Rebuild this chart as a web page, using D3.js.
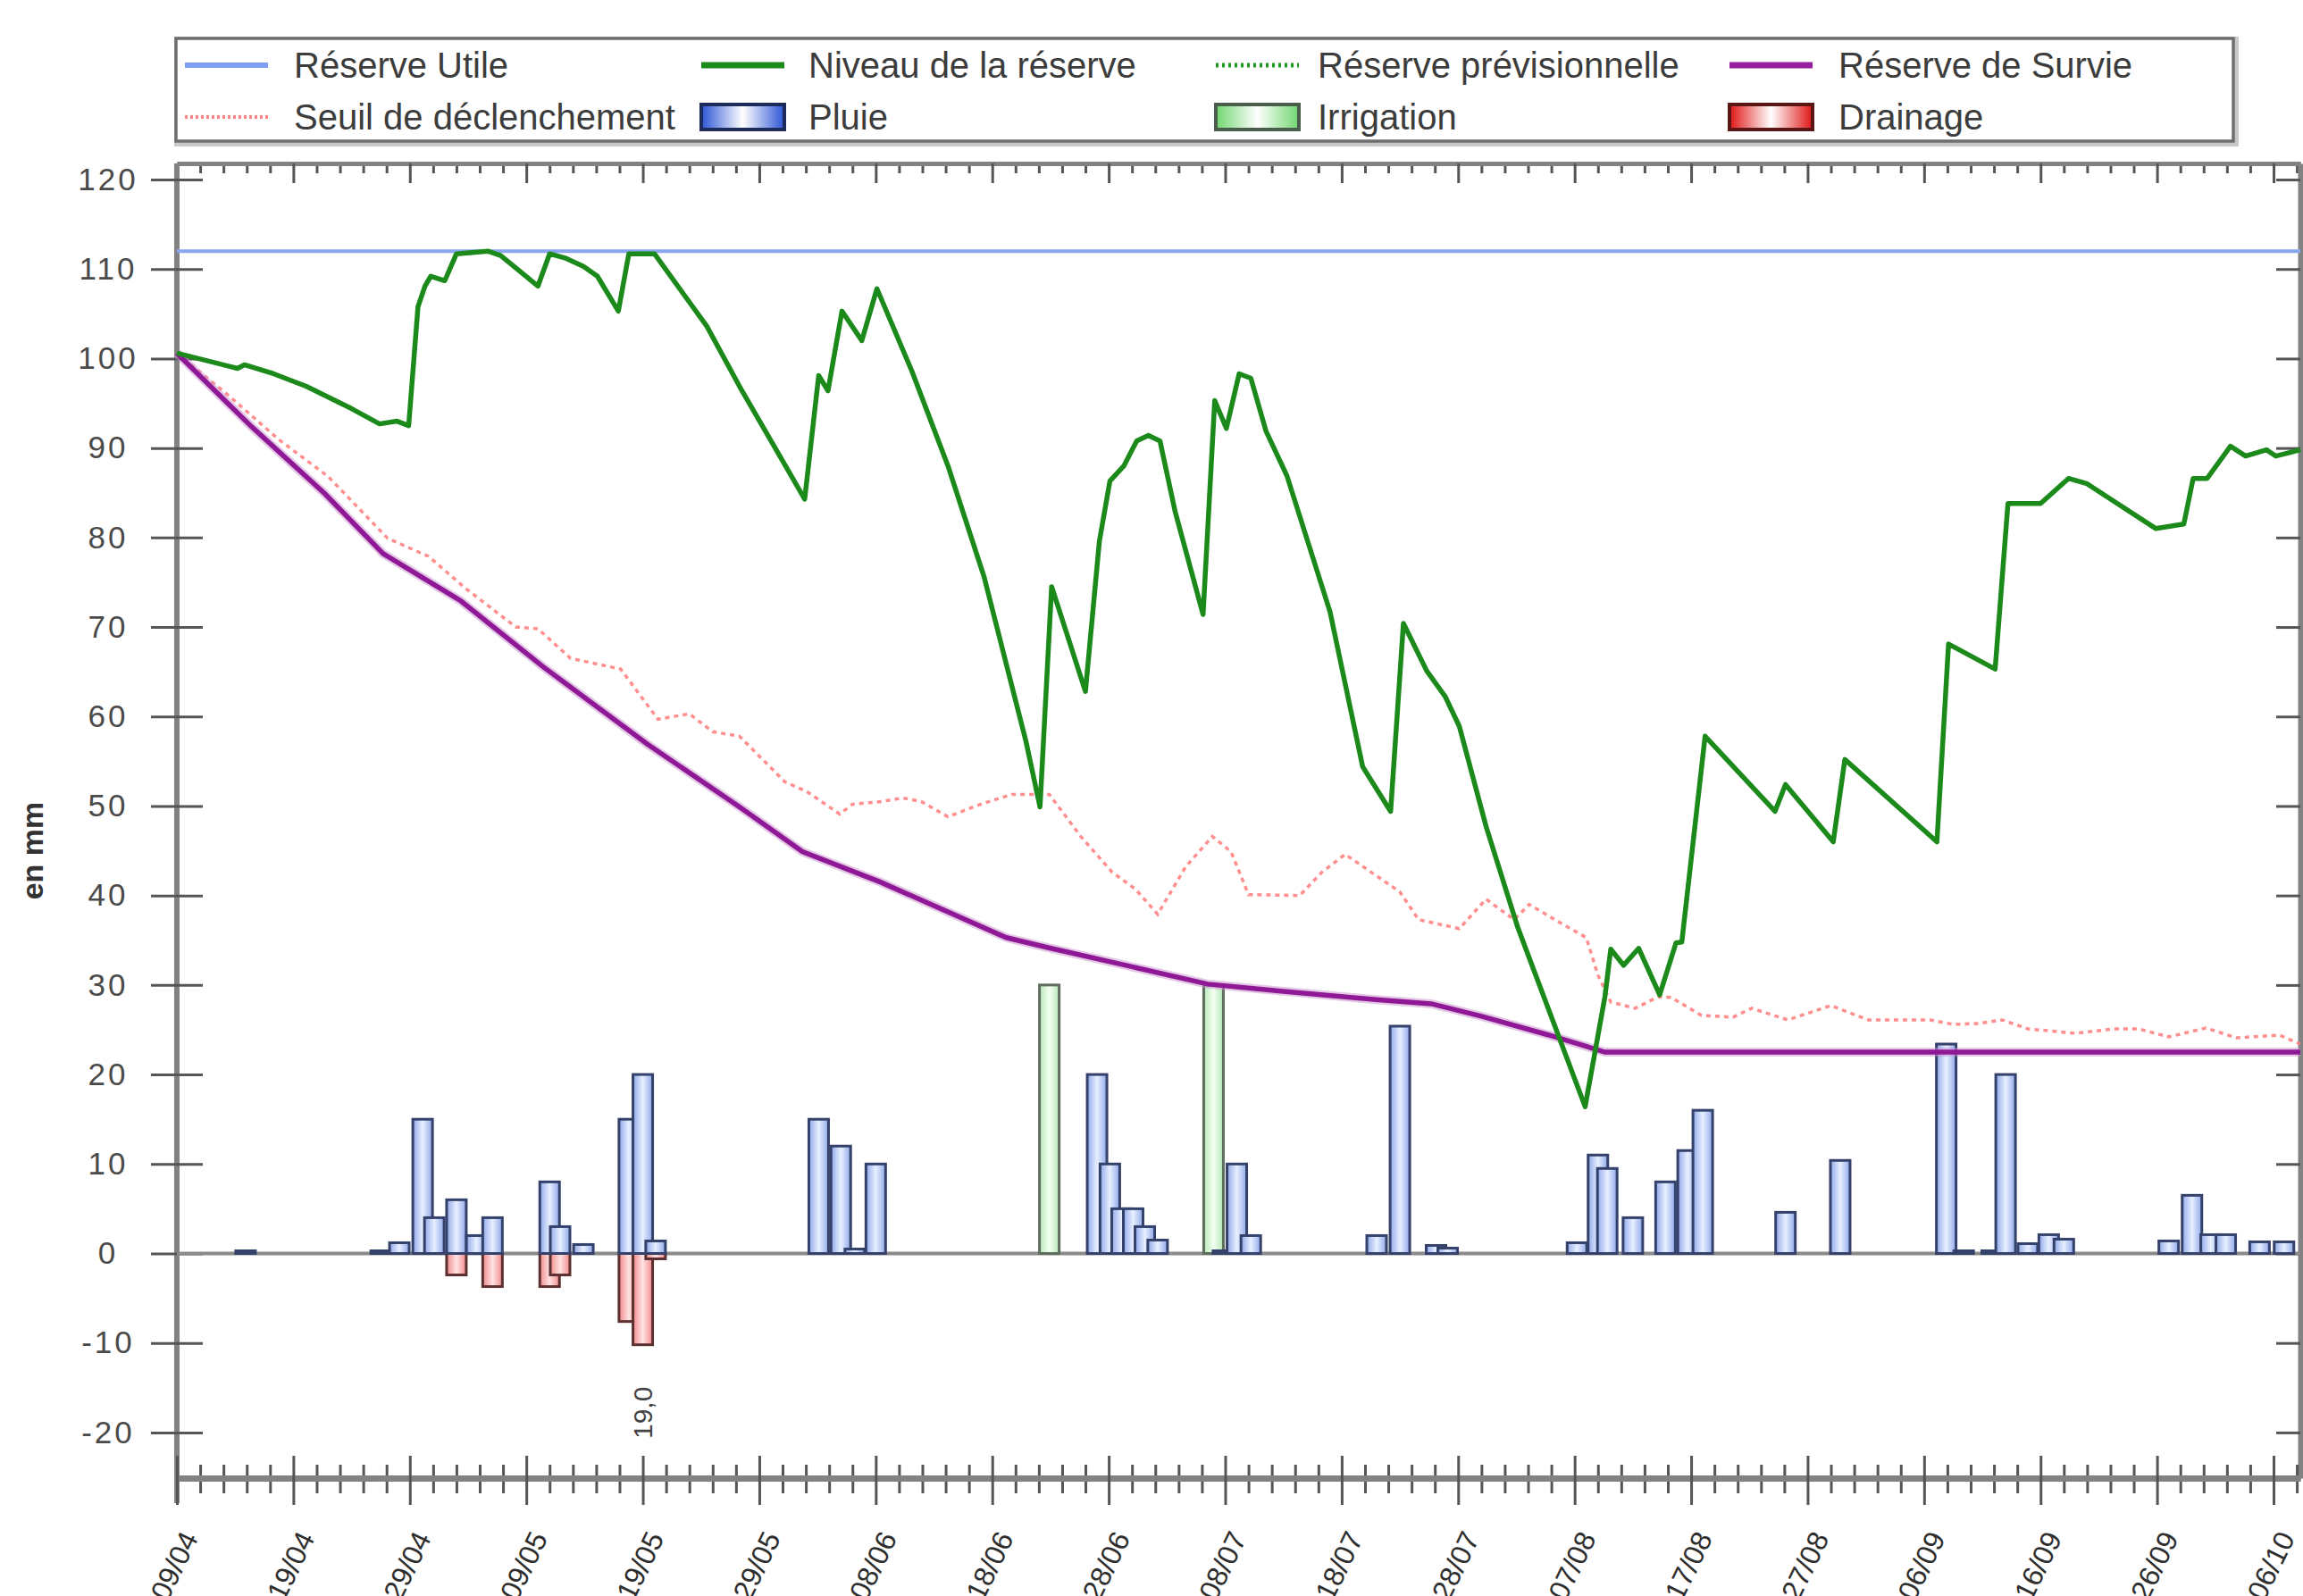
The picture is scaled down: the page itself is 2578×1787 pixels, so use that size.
<!DOCTYPE html>
<html>
<head>
<meta charset="utf-8">
<script src="https://cdn.jsdelivr.net/npm/d3@7"></script>
<style>
  html, body { margin: 0; padding: 0; background: #fff; overflow: hidden; }
  svg { display: block; font-family: "Liberation Sans", Arial, sans-serif; }
</style>
</head>
<body>
<svg id="chart" width="2578" height="1787"></svg>
<script>
// --- données (jours comptés depuis le 09/04, valeurs en mm) ---
const startDay = [2011, 3, 9];
const lastDay = 182.3;
const reserveUtile = 112;

const niveauReserve = [
  [0, 100.6], [5.2, 98.9], [5.8, 99.3], [8.3, 98.3], [11.1, 96.9], [15, 94.4], [17.4, 92.7],
  [18.9, 93], [19.9, 92.5], [20.7, 105.8], [21.3, 108.1], [21.8, 109.2], [23, 108.7], [24, 111.7],
  [26.7, 112], [27.8, 111.5], [31, 108.1], [32, 111.7], [33.4, 111.2], [34.9, 110.3], [36.1, 109.2],
  [37.9, 105.3], [38.8, 111.7], [41, 111.7], [45.5, 103.6], [48.3, 96.9], [53.9, 84.3], [55.1, 98.1],
  [55.9, 96.4], [57.1, 105.3], [58.8, 102], [60.1, 107.8], [63.1, 98.6], [66.2, 88], [69.3, 75.6],
  [72.9, 57.2], [74.1, 49.9], [75.1, 74.5], [78, 62.8], [79.2, 79.6], [80.1, 86.3], [81.3, 88],
  [82.4, 90.8], [83.4, 91.4], [84.4, 90.8], [85.7, 82.9], [88.1, 71.4], [89.1, 95.3], [90.1, 92.2],
  [91.2, 98.3], [92.2, 97.8], [93.5, 91.9], [95.3, 86.9], [99, 71.7], [101.8, 54.4], [104.2, 49.4],
  [105.3, 70.4], [107.3, 65.1], [108.9, 62.2], [110.1, 58.9], [112.4, 47.7], [115.1, 36.5],
  [120.9, 16.4], [122.6, 28.7], [123.1, 34.0], [124.2, 32.2], [125.5, 34.1], [127.3, 28.9],
  [128.7, 34.7], [129.2, 34.8], [131.2, 57.8], [137.2, 49.4], [138.1, 52.4], [142.2, 46.0],
  [143.2, 55.2], [151.1, 46.0], [152.1, 68.1], [156.1, 65.3], [157.2, 83.8], [160, 83.8],
  [162.4, 86.6], [164, 86], [169.9, 81], [172.3, 81.5], [173.1, 86.6], [174.3, 86.6], [176.3, 90.2],
  [177.6, 89.1], [179.4, 89.8], [180.2, 89.1], [182.3, 89.8]
];

const reserveSurvie = [
  [0, 100.6], [6.4, 92.4], [12.7, 84.9], [17.7, 78.2], [24.4, 72.9], [31.4, 65.6], [40.4, 56.9],
  [48.3, 49.9], [53.7, 44.9], [60.4, 41.5], [71.2, 35.3], [74.7, 34.2], [80.8, 32.4], [88.5, 30.1],
  [95, 29.3], [102.7, 28.4], [107.7, 27.9], [112, 26.5], [117.8, 24.4], [122.6, 22.5], [182.3, 22.5]
];

const seuilDeclenchement = [
  [0, 100.6], [4.5, 95.8], [8.7, 91], [13, 86.8], [18.1, 79.9], [21.6, 77.9], [24.8, 74.3],
  [29.1, 70.0], [31, 69.8], [33.8, 66.5], [38.1, 65.3], [41.3, 59.7], [44, 60.3], [46, 58.3],
  [48.3, 57.8], [52.2, 52.7], [54.1, 51.6], [56.9, 49.1], [58, 50.2], [60.5, 50.5], [62.3, 50.9],
  [63.9, 50.5], [66.2, 48.8], [69, 50.2], [71.7, 51.3], [74.9, 51.3], [77.6, 46.6], [80.3, 42.6],
  [82.3, 40.7], [84.2, 37.9], [86.6, 43.2], [88.9, 46.6], [90.5, 44.9], [92, 40.1], [96.4, 40.0],
  [98.3, 42.6], [100.3, 44.6], [105, 40.4], [106.6, 37.3], [110.1, 36.3], [112.4, 39.6],
  [114.8, 37.3], [116.1, 39.0], [118.7, 37.0], [121, 35.3], [122, 31.1], [123.1, 28.1],
  [125.2, 27.4], [127.2, 28.7], [128.3, 28.6], [130.9, 26.6], [133.6, 26.4], [135.2, 27.4],
  [138.3, 26.1], [142, 27.7], [145.2, 26.1], [150.5, 26.1], [152.5, 25.6], [154.7, 25.7],
  [156.7, 26.1], [158.9, 25.1], [163, 24.6], [166.3, 25.1], [168.4, 25.1], [171, 24.2],
  [174.2, 25.2], [176.8, 24.1], [180.5, 24.4], [182.3, 23.4]
];

const pluie = [
  [5.9, 0.3], [17.5, 0.3], [19.1, 1.2], [21.1, 15], [22.1, 4], [24, 6], [25.7, 2], [27.1, 4],
  [32, 8], [32.9, 3], [34.9, 1], [38.8, 15], [40, 20], [41.1, 1.4], [55.1, 15], [57, 12],
  [58.2, 0.5], [60, 10], [79, 20], [80.1, 10], [81.1, 5], [82.1, 5], [83.1, 3], [84.2, 1.5],
  [89.8, 0.3], [91, 10], [92.2, 2], [103, 2], [105, 25.4], [108.1, 0.9], [109.1, 0.6],
  [120.2, 1.2], [122, 11], [122.8, 9.5], [125, 4], [127.8, 8], [129.7, 11.5], [131, 16],
  [138.1, 4.6], [142.8, 10.4], [151.9, 23.4], [153.4, 0.3], [155.8, 0.3], [157, 20], [158.9, 1.1],
  [160.7, 2.1], [162, 1.6], [171, 1.4], [173, 6.5], [174.6, 2.1], [175.9, 2.1], [178.8, 1.3],
  [180.9, 1.3]
];
const irrigation = [[74.9, 30], [89, 30]];
const drainage = [[24, -2.4], [27.1, -3.7], [32, -3.7], [32.9, -2.4], [38.8, -7.6], [40, -10.2], [41.1, -0.6]];
const annotation = { day: 40, value: -17.8, text: '19,0' };

const yTicks = [-20, -10, 0, 10, 20, 30, 40, 50, 60, 70, 80, 90, 100, 110, 120];
const legendRow1 = ['Réserve Utile', 'Niveau de la réserve', 'Réserve prévisionnelle', 'Réserve de Survie'];
const legendRow2 = ['Seuil de déclenchement', 'Pluie', 'Irrigation', 'Drainage'];

// --- outils ---
const t0 = Date.UTC(startDay[0], startDay[1], startDay[2]);
const toDate = d => new Date(t0 + d * 864e5);
const fmt = d3.utcFormat('%d/%m');

const svg = d3.select('#chart');
const defs = svg.append('defs');

const plot = { left: 198, right: 2575, top: 183, bottom: 1655 };

const x = d3.scaleUtc()
  .domain([toDate(0), toDate(lastDay)])
  .range([plot.left, plot.right]);

const y = d3.scaleLinear()
  .domain([-25.1, 121.8])
  .range([plot.bottom, plot.top]);

function hGrad(id, edge, mid) {
  const g = defs.append('linearGradient').attr('id', id)
    .attr('x1', 0).attr('x2', 1).attr('y1', 0).attr('y2', 0);
  [[0, edge], [0.5, mid], [1, edge]].forEach(([o, c]) => {
    g.append('stop').attr('offset', o).attr('stop-color', c);
  });
}
hGrad('gPluie', '#90a9ea', '#e8efff');
hGrad('gIrrig', '#b4e8b4', '#f4fff4');
hGrad('gDrain', '#f18a8a', '#ffe2e2');
hGrad('gPluieLeg', '#2c54d6', '#ffffff');
hGrad('gIrrigLeg', '#6fd66f', '#ffffff');
hGrad('gDrainLeg', '#e01515', '#ffffff');

// --- légende ---
const legend = svg.append('g');
legend.append('rect')
  .attr('x', 199).attr('y', 45).attr('width', 2303).attr('height', 115)
  .attr('fill', 'none').attr('stroke', '#c8c8c8').attr('stroke-width', 8);
legend.append('rect')
  .attr('x', 197).attr('y', 43).attr('width', 2303).attr('height', 115)
  .attr('fill', '#fff').attr('stroke', '#6e6e6e').attr('stroke-width', 3.5);

const colSwatch = [207, 785, 1361, 1936];
const colText = [329, 905, 1475, 2058];
const rowY = [73, 131];

const row1Style = [
  { stroke: '#7e9ef0', width: 6, dash: null },
  { stroke: '#1a8a1a', width: 7, dash: null },
  { stroke: '#1f9a1f', width: 5, dash: '3,4' },
  { stroke: '#961f9e', width: 7, dash: null }
];
legendRow1.forEach((label, i) => {
  const s = row1Style[i];
  legend.append('line')
    .attr('x1', colSwatch[i]).attr('x2', colSwatch[i] + 93)
    .attr('y1', rowY[0]).attr('y2', rowY[0])
    .attr('stroke', s.stroke).attr('stroke-width', s.width)
    .attr('stroke-dasharray', s.dash);
});
legend.append('line')
  .attr('x1', colSwatch[0]).attr('x2', colSwatch[0] + 93)
  .attr('y1', rowY[1]).attr('y2', rowY[1])
  .attr('stroke', '#ff8585').attr('stroke-width', 4).attr('stroke-dasharray', '3,3');
const row2Fill = [null, ['url(#gPluieLeg)', '#1d2b5a'], ['url(#gIrrigLeg)', '#4b5e4b'], ['url(#gDrainLeg)', '#5a1515']];
row2Fill.forEach((f, i) => {
  if (!f) return;
  legend.append('rect')
    .attr('x', colSwatch[i]).attr('y', rowY[1] - 14)
    .attr('width', 93).attr('height', 28)
    .attr('fill', f[0]).attr('stroke', f[1]).attr('stroke-width', 4);
});
[legendRow1, legendRow2].forEach((row, r) => {
  row.forEach((label, i) => {
    legend.append('text')
      .attr('x', colText[i]).attr('y', rowY[r]).attr('dy', '0.36em')
      .attr('font-size', 40).attr('fill', '#3c3c3c')
      .text(label);
  });
});

// --- axes ---
function styleAxis(g, width) {
  g.select('.domain').attr('stroke', '#828282').attr('stroke-width', width);
  g.selectAll('.tick line').attr('stroke', '#555').attr('stroke-width', 3);
}

const majorDays = d3.range(0, 181, 10).map(toDate);
const minorDays = d3.range(0, lastDay, 2).filter(d => d % 10 !== 0).map(toDate);

// axe du haut
const topMinor = svg.append('g').attr('transform', `translate(0,${plot.top})`)
  .call(d3.axisBottom(x).tickValues(minorDays).tickSize(11).tickSizeOuter(0).tickFormat(''));
styleAxis(topMinor, 5);
const topMajor = svg.append('g').attr('transform', `translate(0,${plot.top})`)
  .call(d3.axisBottom(x).tickValues(majorDays).tickSize(22).tickSizeOuter(0).tickFormat(''));
styleAxis(topMajor, 5);

// axe de droite
const rightAxis = svg.append('g').attr('transform', `translate(${plot.right},0)`)
  .call(d3.axisLeft(y).tickValues(yTicks).tickSize(27).tickSizeOuter(0).tickFormat(''));
styleAxis(rightAxis, 6);

// axe de gauche
const leftAxis = svg.append('g').attr('transform', `translate(${plot.left},0)`)
  .call(d3.axisLeft(y).tickValues(yTicks).tickSize(29).tickSizeOuter(0).tickFormat(d => String(d)));
styleAxis(leftAxis, 6);
leftAxis.selectAll('.tick line').attr('x1', 29);
leftAxis.selectAll('.tick text')
  .attr('x', -77).attr('text-anchor', 'middle')
  .attr('font-size', 35).attr('letter-spacing', 3).attr('fill', '#4a4a4a')
  .attr('font-family', '"Liberation Sans", Arial, sans-serif');
leftAxis.select('.domain').attr('d', `M0,${plot.top}V${plot.bottom + 28}`);

svg.append('text')
  .attr('transform', `translate(36,${(y(50) + y(40)) / 2}) rotate(-90)`)
  .attr('text-anchor', 'middle').attr('dy', '0.35em')
  .attr('font-size', 34).attr('font-weight', 'bold').attr('fill', '#333')
  .text('en mm');

// axe du bas
const botMinor = svg.append('g').attr('transform', `translate(0,${plot.bottom})`)
  .call(d3.axisBottom(x).tickValues(minorDays).tickSize(17).tickSizeOuter(0).tickFormat(''));
styleAxis(botMinor, 7);
botMinor.selectAll('.tick line').attr('y1', -15);
const botMajor = svg.append('g').attr('transform', `translate(0,${plot.bottom})`)
  .call(d3.axisBottom(x).tickValues(majorDays).tickSize(30).tickSizeOuter(0).tickFormat(fmt));
styleAxis(botMajor, 7);
botMajor.selectAll('.tick line').attr('y1', -25);
botMajor.selectAll('.tick text')
  .attr('x', 0).attr('y', 0).attr('dy', '0.35em')
  .attr('text-anchor', 'end')
  .attr('transform', 'translate(14,62) rotate(-64)')
  .attr('font-size', 32).attr('fill', '#2e2e2e')
  .attr('font-family', '"Liberation Sans", Arial, sans-serif');

// --- ligne zéro ---
svg.append('line')
  .attr('x1', plot.left).attr('x2', plot.right)
  .attr('y1', y(0)).attr('y2', y(0))
  .attr('stroke', '#8a8a8a').attr('stroke-width', 4);

// --- barres ---
const barW = 22;
function drawBars(data, fill, stroke) {
  svg.append('g').selectAll('rect').data(data).join('rect')
    .attr('x', d => x(toDate(d[0])) - barW / 2)
    .attr('y', d => y(Math.max(0, d[1])))
    .attr('width', barW)
    .attr('height', d => Math.abs(y(d[1]) - y(0)))
    .attr('fill', fill).attr('stroke', stroke).attr('stroke-width', 3);
}
drawBars(drainage, 'url(#gDrain)', '#5c3030');
drawBars(irrigation, 'url(#gIrrig)', '#5e6e5e');
drawBars(pluie, 'url(#gPluie)', '#34416a');

svg.append('text')
  .attr('transform', `translate(${x(toDate(annotation.day))},${y(annotation.value)}) rotate(-90)`)
  .attr('text-anchor', 'middle').attr('dy', '0.35em')
  .attr('font-size', 30).attr('fill', '#444')
  .text(annotation.text);

// --- courbes ---
const line = d3.line().x(d => x(toDate(d[0]))).y(d => y(d[1]));

svg.append('line')
  .attr('x1', plot.left).attr('x2', plot.right)
  .attr('y1', y(reserveUtile)).attr('y2', y(reserveUtile))
  .attr('stroke', '#8aa6ee').attr('stroke-width', 4);

svg.append('path').datum(seuilDeclenchement)
  .attr('d', line).attr('fill', 'none')
  .attr('stroke', '#ff7a7a').attr('stroke-width', 3.5)
  .attr('stroke-dasharray', '5,5').attr('opacity', 0.85);

svg.append('path').datum(reserveSurvie)
  .attr('d', line).attr('fill', 'none')
  .attr('stroke', '#c88fcc').attr('stroke-width', 10).attr('opacity', 0.5);
svg.append('path').datum(reserveSurvie)
  .attr('d', line).attr('fill', 'none')
  .attr('stroke', '#8e1896').attr('stroke-width', 5.5);

svg.append('path').datum(niveauReserve)
  .attr('d', line).attr('fill', 'none')
  .attr('stroke', '#1b8a1b').attr('stroke-width', 5.5)
  .attr('stroke-linejoin', 'round');
</script>
</body>
</html>
